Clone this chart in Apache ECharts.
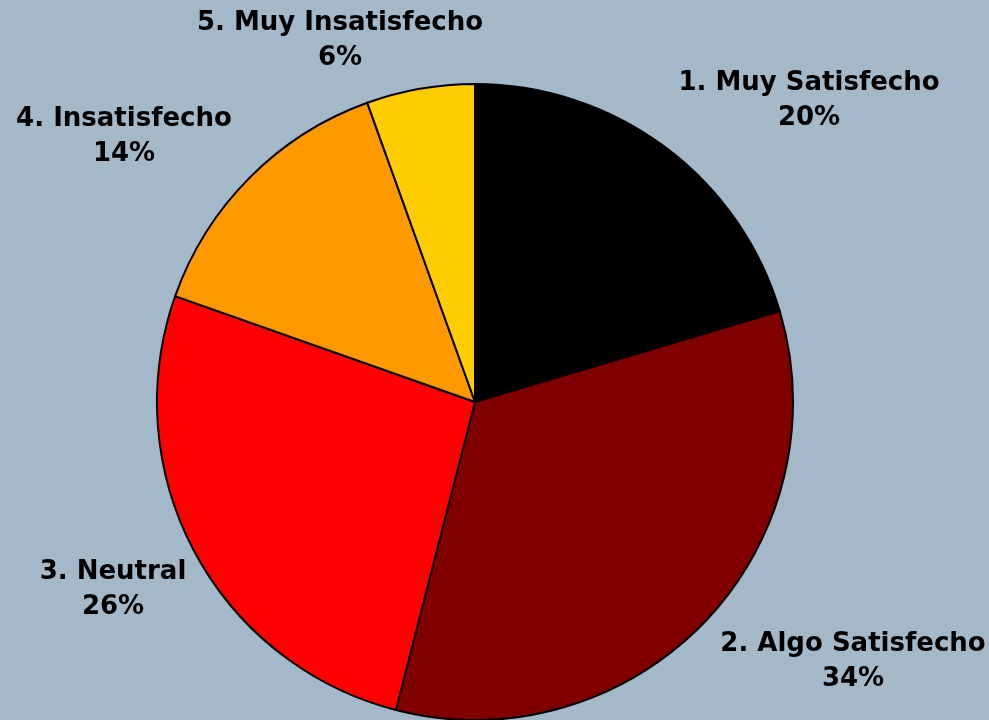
<!DOCTYPE html>
<html>
<head>
<meta charset="utf-8">
<script src="https://cdn.jsdelivr.net/npm/echarts@6/dist/echarts.min.js"></script>
<style>
html,body{margin:0;padding:0;background:#A3B9CA;}
#chart{width:989px;height:720px;}
</style>
</head>
<body>
<div id="chart"></div>
<script>
var categories = ["1. Muy Satisfecho", "2. Algo Satisfecho", "3. Neutral", "4. Insatisfecho", "5. Muy Insatisfecho"];
var values = [20.4, 33.6, 26.4, 14.1, 5.5];
var colors = ["#000000", "#800000", "#FF0000", "#FF9900", "#FFCC00"];
var labelPos = [[809, 101], [853, 662], [113, 590], [124, 137], [340, 41]];

var chart = echarts.init(document.getElementById('chart'), null, {renderer: 'canvas'});
var data = categories.map(function (c, i) {
  return {name: c, value: values[i], itemStyle: {color: colors[i]}};
});
chart.setOption({
  backgroundColor: '#A3B9CA',
  animation: false,
  series: [{
    type: 'pie',
    center: [475, 402],
    radius: 318,
    startAngle: 90,
    clockwise: true,
    avoidLabelOverlap: false,
    data: data,
    itemStyle: {borderColor: '#000000', borderWidth: 2},
    label: {
      show: true,
      position: 'outside',
      color: '#000000',
      fontFamily: 'DejaVu Sans',
      fontWeight: 'bold',
      fontSize: 26,
      lineHeight: 35,
      align: 'center',
      formatter: function (p) { return p.name + '\n' + Math.round(p.percent) + '%'; }
    },
    labelLine: {show: false},
    labelLayout: function (p) {
      var pos = labelPos[p.dataIndex];
      return {x: pos[0], y: pos[1], align: 'center', verticalAlign: 'middle'};
    },
    emphasis: {disabled: true}
  }]
});
</script>
</body>
</html>
